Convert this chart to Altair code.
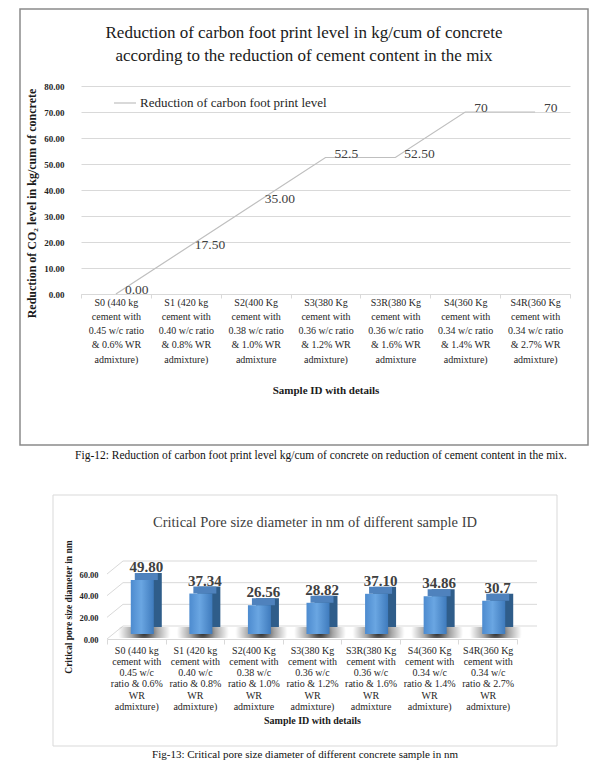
import altair as alt
import pandas as pd

# ---------------- data ----------------
sample_ids = ["S0", "S1", "S2", "S3", "S3R", "S4", "S4R"]

fig12_axis_labels = [
    ["S0 (440 kg", "cement with", "0.45 w/c ratio", "& 0.6% WR", "admixture)"],
    ["S1 (420 kg", "cement with", "0.40 w/c ratio", "& 0.8% WR", "admixture)"],
    ["S2(400 Kg", "cement with", "0.38 w/c ratio", "& 1.0% WR", "admixture"],
    ["S3(380 Kg", "cement with", "0.36 w/c ratio", "& 1.2% WR", "admixture)"],
    ["S3R(380 Kg", "cement with", "0.36 w/c ratio", "& 1.6% WR", "admixture"],
    ["S4(360 Kg", "cement with", "0.34 w/c ratio", "& 1.4% WR", "admixture)"],
    ["S4R(360 Kg", "cement with", "0.34 w/c ratio", "& 2.7% WR", "admixture)"],
]
co2_reduction = [0.00, 17.50, 35.00, 52.5, 52.50, 70, 70]
co2_value_labels = ["0.00", "17.50", "35.00", "52.5", "52.50", "70", "70"]
fig12_y_ticks = [0, 10, 20, 30, 40, 50, 60, 70, 80]
fig12_series = "Reduction of carbon foot print level"
fig12_title = ["Reduction of carbon foot print level in kg/cum of concrete",
               "according to the reduction of cement content in the mix"]
fig12_caption = ("Fig-12: Reduction of carbon foot print level kg/cum of concrete on "
                 "reduction of cement content in the mix.")

fig13_axis_labels = [
    ["S0 (440 kg", "cement with", "0.45 w/c", "ratio & 0.6%", "WR", "admixture)"],
    ["S1 (420 kg", "cement with", "0.40 w/c", "ratio & 0.8%", "WR", "admixture)"],
    ["S2(400 Kg", "cement with", "0.38 w/c", "ratio & 1.0%", "WR", "admixture"],
    ["S3(380 Kg", "cement with", "0.36 w/c", "ratio & 1.2%", "WR", "admixture)"],
    ["S3R(380 Kg", "cement with", "0.36 w/c", "ratio & 1.6%", "WR", "admixture"],
    ["S4(360 Kg", "cement with", "0.34 w/c", "ratio & 1.4%", "WR", "admixture)"],
    ["S4R(360 Kg", "cement with", "0.34 w/c", "ratio & 2.7%", "WR", "admixture)"],
]
pore_diameter = [49.80, 37.34, 26.56, 28.82, 37.10, 34.86, 30.7]
pore_value_labels = ["49.80", "37.34", "26.56", "28.82", "37.10", "34.86", "30.7"]
fig13_y_ticks = [0, 20, 40, 60]
fig13_title = "Critical  Pore size diameter in nm of different sample ID"
fig13_caption = "Fig-13: Critical pore size diameter of different concrete sample in nm"

SERIF = "Liberation Serif"
one_row = alt.Data(values=[{"k": 1}])

# ---------------- chart 1 ----------------
W1, H1 = 489, 208
df1 = pd.DataFrame({
    "id": sample_ids,
    "cat": ["|".join(l) for l in fig12_axis_labels],
    "value": co2_reduction,
    "txt": co2_value_labels,
    "series": [fig12_series] * len(sample_ids),
})
order1 = list(df1["cat"])

x1 = alt.X(
    "cat:N", sort=order1, bandPosition=0.5,
    scale=alt.Scale(type="band", paddingInner=0, paddingOuter=0),
    axis=alt.Axis(
        title="Sample ID with details", labelExpr="split(datum.label, '|')",
        labelAngle=0, labelFont=SERIF, labelFontSize=10, labelLineHeight=14.3,
        labelColor="#262626", labelPadding=4, labelBaseline="middle",
        tickBand="extent", ticks=True,
        tickSize=4, tickColor="#d9d9d9", domainColor="#d9d9d9", grid=False,
        titleFont=SERIF, titleFontSize=11, titleFontWeight="bold",
        titlePadding=20, titleColor="#1a1a1a",
    ),
)
y1 = alt.Y(
    "value:Q", scale=alt.Scale(domain=[0, 80], nice=False),
    axis=alt.Axis(
        values=fig12_y_ticks, format=".2f", labelOverlap=False,
        title="Reduction of CO\u2082 level in kg/cum of concrete",
        titleFont=SERIF, titleFontSize=12, titleFontWeight="bold",
        titlePadding=5, titleY=117, titleColor="#1a1a1a",
        labelFont=SERIF, labelFontSize=9, labelFontWeight="bold",
        labelColor="#262626", labelPadding=17, ticks=False, domain=False,
        gridColor="#d9d9d9",
    ),
)

base1 = alt.Chart(df1)
line1 = base1.mark_line(strokeWidth=1.2).encode(
    x=x1, y=y1,
    color=alt.Color(
        "series:N", scale=alt.Scale(range=["#bfbfbf"]),
        legend=alt.Legend(
            title=None, orient="none", legendX=32, legendY=5,
            symbolType="stroke", symbolSize=484, symbolStrokeWidth=1.2,
            labelFont=SERIF, labelFontSize=13, labelColor="#262626",
            labelOffset=3, padding=0, labelLimit=400,
        ),
    ),
)
text1 = base1.mark_text(
    align="left", baseline="middle", dx=9, dy=-4, font=SERIF, fontSize=13.5,
    color="#404040",
).encode(x=x1, y=y1, text="txt:N")

frame1 = alt.Chart(one_row).mark_rect(
    filled=False, stroke="#8a8a8a", strokeWidth=1.5
).encode(x=alt.value(-61), x2=alt.value(W1 + 18), y=alt.value(-77), y2=alt.value(H1 + 151))

title1 = alt.Chart(one_row).mark_text(
    font=SERIF, fontSize=17, lineHeight=23, align="center", baseline="middle",
    color="#1a1a1a",
).encode(x=alt.value(223), y=alt.value(-53), text=alt.value(fig12_title))

caption1 = alt.Chart(one_row).mark_text(
    font=SERIF, fontSize=11.5, align="center", baseline="middle", color="#111111",
).encode(x=alt.value(240), y=alt.value(370), text=alt.value(fig12_caption))

chart1 = alt.layer(frame1, line1, text1, title1, caption1).properties(width=W1, height=H1)

# ---------------- chart 2 ----------------
OFF = 26          # chart 2 plot starts this far right of chart 1's plot
W2, H2 = 410, 65
df2 = pd.DataFrame({
    "id": sample_ids,
    "cat": ["|".join(l) for l in fig13_axis_labels],
    "value": pore_diameter,
    "txt": pore_value_labels,
})
order2 = list(df2["cat"])
dfgrid = pd.DataFrame({"value": fig13_y_ticks})
dffloor = pd.DataFrame({"cat": order2, "value": [0] * len(order2)})

x2 = alt.X(
    "cat:N", sort=order2, bandPosition=0.5,
    scale=alt.Scale(type="band", paddingInner=0, paddingOuter=0, range=[OFF, OFF + W2]),
    axis=alt.Axis(
        title="Sample ID with details", labelExpr="split(datum.label, '|')",
        labelAngle=0, labelFont=SERIF, labelFontSize=10, labelLineHeight=11.3,
        labelColor="#262626", labelPadding=6, labelBaseline="middle",
        tickBand="extent", ticks=True,
        tickSize=5, tickColor="#d9d9d9", domainColor="#d9d9d9", grid=False,
        titleFont=SERIF, titleFontSize=10, titleFontWeight="bold",
        titlePadding=4, titleColor="#1a1a1a", titleX=OFF + W2 / 2,
    ),
)
y2 = alt.Y(
    "value:Q", scale=alt.Scale(domain=[0, 60], nice=False),
    axis=alt.Axis(
        values=fig13_y_ticks, tickCount=4, format=".2f", labelOverlap=False,
        offset=-OFF,
        title="Critical pore size diameter in nm",
        titleFont=SERIF, titleFontSize=9.5, titleFontWeight="bold",
        titlePadding=5, titleColor="#1a1a1a",
        labelFont=SERIF, labelFontSize=8.5, labelFontWeight="bold",
        labelColor="#262626", labelPadding=9, ticks=False, domain=False,
        grid=False,
    ),
)

back_grid = alt.Chart(dfgrid).mark_rule(color="#d9d9d9", yOffset=-13).encode(
    y=y2, x=alt.value(OFF + 16), x2=alt.value(OFF + W2 + 20)
)
side_grid = alt.Chart(dfgrid).mark_rule(color="#d9d9d9", y2Offset=-13).encode(
    y=y2, y2=alt.Y2("value"), x=alt.value(OFF), x2=alt.value(OFF + 16)
)

shadow_fill = alt.RadialGradient(
    gradient="radial",
    stops=[alt.GradientStop(color="rgba(0,0,0,0.85)", offset=0),
           alt.GradientStop(color="rgba(0,0,0,0.35)", offset=0.5),
           alt.GradientStop(color="rgba(0,0,0,0)", offset=1)],
    x1=0.5, y1=0.5, r1=0, x2=0.5, y2=0.5, r2=0.5,
)
front_fill = alt.LinearGradient(
    gradient="linear",
    stops=[alt.GradientStop(color="#4d8bcf", offset=0),
           alt.GradientStop(color="#6aa6e2", offset=0.45),
           alt.GradientStop(color="#3f7bbd", offset=1)],
    x1=0, x2=1, y1=0, y2=0,
)

shadow = alt.Chart(dffloor).mark_bar(
    width=52, xOffset=8, yOffset=-12, y2Offset=-1, color=shadow_fill
).encode(x=x2, y=y2, y2=alt.Y2("value"))

base2 = alt.Chart(df2)
side = base2.mark_bar(width=23, xOffset=14, yOffset=-12, y2Offset=-12, color="#2f5d8a").encode(
    x=x2, y=y2
)
top = base2.mark_bar(width=23, xOffset=10, yOffset=-12, y2Offset=-5, color="#4f82bd").encode(
    x=x2, y=y2, y2=alt.Y2("value")
)
front = base2.mark_bar(width=23, xOffset=6, yOffset=-5, y2Offset=-5, color=front_fill).encode(
    x=x2, y=y2
)
labels2 = base2.mark_text(
    dx=10, dy=-10, baseline="bottom", align="center", font=SERIF, fontSize=15,
    fontWeight="bold", color="#404040",
).encode(x=x2, y=y2, text="txt:N")

frame2 = alt.Chart(one_row).mark_rect(
    filled=False, stroke="#d9d9d9", strokeWidth=1
).encode(x=alt.value(OFF - 54), x2=alt.value(OFF + W2 + 40), y=alt.value(-79), y2=alt.value(H2 + 107))
title2 = alt.Chart(one_row).mark_text(
    font=SERIF, fontSize=14.5, align="center", baseline="middle", color="#404040",
).encode(x=alt.value(OFF + 208), y=alt.value(-51), text=alt.value(fig13_title))
caption2 = alt.Chart(one_row).mark_text(
    font=SERIF, fontSize=11, align="center", baseline="middle", color="#111111",
).encode(x=alt.value(OFF + 198), y=alt.value(181), text=alt.value(fig13_caption))

chart2 = alt.layer(
    frame2, back_grid, side_grid, shadow, side, top, front, labels2, title2, caption2
).properties(width=OFF + W2, height=H2)

chart = alt.vconcat(chart1, chart2, spacing=32).configure(
    padding={"left": 11, "top": 0, "right": 0, "bottom": 0}
).configure_view(stroke=None).configure_axisY(labelOverlap=False)

chart.save("out.html", embed_options={"renderer": "svg", "actions": False})
